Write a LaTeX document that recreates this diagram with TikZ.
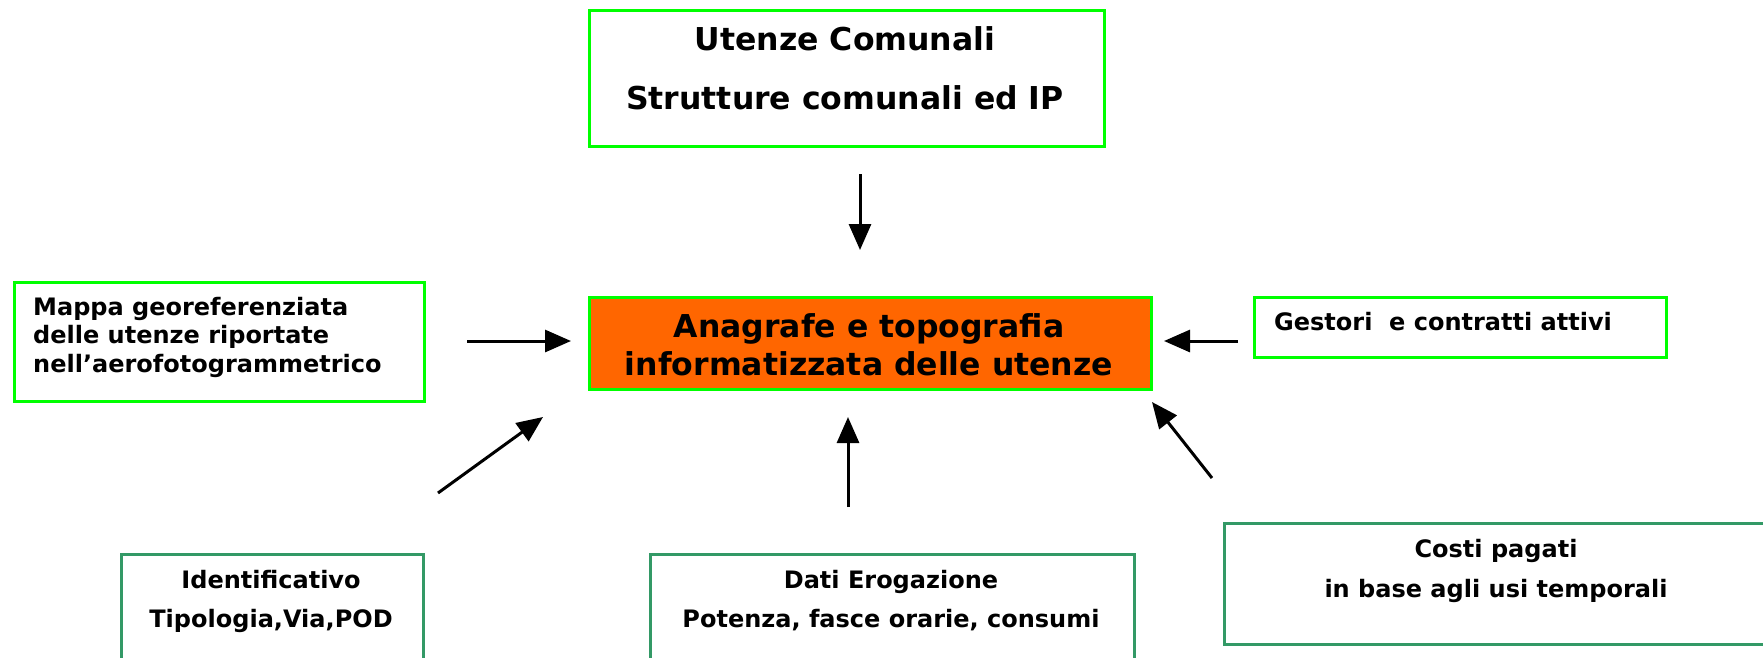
\documentclass[tikz,border=0pt]{standalone}
\usepackage{fontspec}
\setmainfont{DejaVu Sans}
\usetikzlibrary{arrows.meta}
\definecolor{brightgreen}{RGB}{0,255,0}
\definecolor{seagreen}{RGB}{51,153,102}
\definecolor{orangefill}{RGB}{255,102,0}
\begin{document}
\begin{tikzpicture}[x=1pt,y=-1pt,
  boxA/.style={draw=brightgreen,line width=2.5pt,inner sep=0pt,anchor=north west},
  boxB/.style={draw=seagreen,line width=2.5pt,inner sep=0pt,anchor=north west},
  bigtext/.style={font=\fontsize{31.5}{38}\selectfont\bfseries,inner sep=0pt,anchor=base},
  smalltext/.style={font=\fontsize{24}{29}\selectfont\bfseries,inner sep=0pt,anchor=base},
  arr/.style={line width=3pt,-{Triangle[length=26pt,width=22pt]}}]
\useasboundingbox[fill=white] (0,0) rectangle (1763,657);

% boxes
\node[boxA,minimum width=515pt,minimum height=136pt] (topbox) at (588,9) {};
\node[boxA,minimum width=410pt,minimum height=119pt] (leftbox) at (13,281) {};
\node[boxA,fill=orangefill,minimum width=562pt,minimum height=92pt] (center) at (588,296) {};
\node[boxA,minimum width=412pt,minimum height=60pt] (gestori) at (1253,296) {};
\node[boxB,minimum width=302pt,minimum height=130pt] (ident) at (120,553) {};
\node[boxB,minimum width=484pt,minimum height=130pt] (dati) at (649,553) {};
\node[boxB,minimum width=547pt,minimum height=121pt] (costi) at (1223,522) {};

% texts
\node[bigtext] (t1) at (845,50) {Utenze Comunali};
\node[bigtext] (t2) at (845,109) {Strutture comunali ed IP};
\node[bigtext] (c1) at (869,337) {Anagrafe e topografia};
\node[bigtext] (c2) at (869,375) {informatizzata delle utenze};
\node[smalltext,anchor=base west] (l1) at (33,315) {Mappa georeferenziata};
\node[smalltext,anchor=base west] (l2) at (33,343) {delle utenze riportate};
\node[smalltext,anchor=base west] (l3) at (33,372) {nell’aerofotogrammetrico};
\node[smalltext,anchor=base west] (g1) at (1274,330) {Gestori\ \ e contratti attivi};
\node[smalltext] (i1) at (271,588) {Identificativo};
\node[smalltext] (i2) at (271,627) {Tipologia,Via,POD};
\node[smalltext] (d1) at (891,588) {Dati Erogazione};
\node[smalltext] (d2) at (891,627) {Potenza, fasce orarie, consumi};
\node[smalltext] (k1) at (1496,557) {Costi pagati};
\node[smalltext] (k2) at (1496,597) {in base agli usi temporali};

% arrow end points
\coordinate (aTopS) at (860,174);
\coordinate (aTopE) at (860,250);
\coordinate (aLeftS) at (467,341);
\coordinate (aLeftE) at (571,341);
\coordinate (aRightS) at (1238,341);
\coordinate (aRightE) at (1164,341);
\coordinate (aBLS) at (438,493);
\coordinate (aBLE) at (543,417);
\coordinate (aBMS) at (848,507);
\coordinate (aBME) at (848,417);
\coordinate (aBRS) at (1212,478);
\coordinate (aBRE) at (1152,402);

\draw[arr] (aTopS) -- (aTopE);
\draw[arr] (aLeftS) -- (aLeftE);
\draw[arr] (aRightS) -- (aRightE);
\draw[arr] (aBLS) -- (aBLE);
\draw[arr] (aBMS) -- (aBME);
\draw[arr] (aBRS) -- (aBRE);
\end{tikzpicture}
\end{document}
